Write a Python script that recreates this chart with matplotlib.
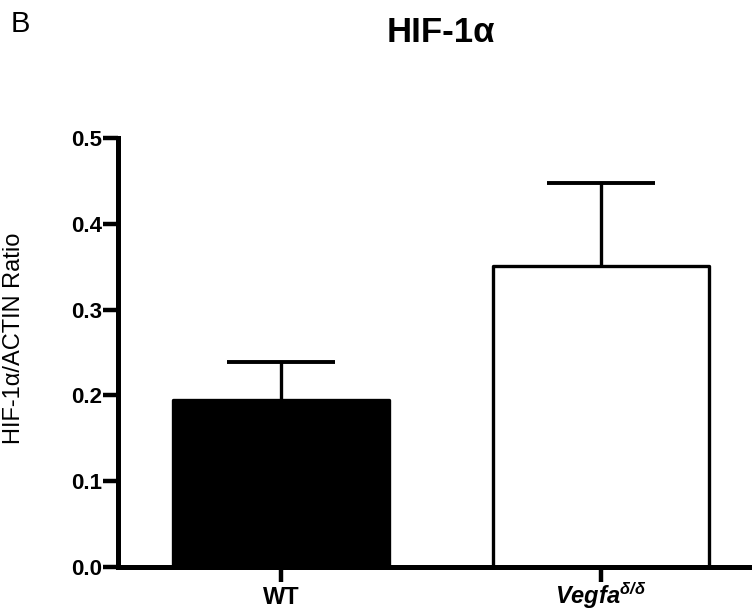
"""HIF-1a / ACTIN ratio bar chart, WT vs Vegfa mutant."""

import matplotlib
matplotlib.use('Agg')
import matplotlib.pyplot as plt

plt.rcParams['font.family'] = ['Liberation Sans', 'DejaVu Sans']
plt.rcParams['mathtext.fontset'] = 'custom'
plt.rcParams['mathtext.rm'] = 'Liberation Sans'
plt.rcParams['mathtext.it'] = 'Liberation Sans:italic'
plt.rcParams['mathtext.bf'] = 'Liberation Sans:bold'
plt.rcParams['mathtext.bfit'] = 'Liberation Sans:italic:bold'

groups = ['WT', r'$\mathbfit{Vegfa}^{\mathbfit{\delta/\delta}}$']
means = [0.195, 0.351]
sem = [0.044, 0.097]
fills = ['black', 'white']
yticks = [0.0, 0.1, 0.2, 0.3, 0.4, 0.5]


def main():
    fig = plt.figure(figsize=(7.52, 6.15), dpi=100)
    ax = fig.add_axes([118 / 752, 48 / 615, 634 / 752, 429 / 615])

    x = list(range(len(groups)))
    eb = ax.errorbar(x, means, yerr=[[0] * len(sem), sem], fmt='none',
                     ecolor='black', elinewidth=2.4, capsize=39, capthick=2.8,
                     zorder=1)
    eb[1][0].set_visible(False)

    ax.bar(x, means, width=0.675, color=fills, edgecolor='black',
           linewidth=2.4, joinstyle='round', zorder=2)

    ax.set_xlim(-0.509, 1.472)
    ax.set_ylim(0, 0.5)
    ax.set_yticks(yticks)
    ax.set_yticklabels([f'{v:.1f}' for v in yticks])
    ax.set_xticks(x)
    ax.set_xticklabels(groups)

    for side in ['top', 'right']:
        ax.spines[side].set_visible(False)
    for side in ['left', 'bottom']:
        ax.spines[side].set_linewidth(3.6)
        ax.spines[side].set_capstyle('projecting')

    ax.tick_params(axis='y', length=11, width=3.2, pad=0.5, labelsize=16)
    ax.tick_params(axis='x', length=11, width=3.2, pad=15.5, labelsize=17)
    for lab in ax.get_yticklabels() + ax.get_xticklabels():
        lab.set_fontweight('bold')
    # same baseline for both group names, superscript sticks up
    for lab in ax.get_xticklabels():
        lab.set_verticalalignment('baseline')

    ax.set_ylabel('HIF-1α/ACTIN Ratio', fontsize=17)
    ax.yaxis.set_label_coords(-0.147, 0.534)

    fig.text(441 / 752, 1 - 32 / 615, 'HIF-1α', ha='center', va='center',
             fontsize=25, fontweight='bold')
    fig.text(20 / 752, 1 - 24 / 615, 'B', ha='center', va='center',
             fontsize=21)

    fig.savefig('out.png', dpi=100)
    plt.close(fig)


if __name__ == '__main__':
    main()
